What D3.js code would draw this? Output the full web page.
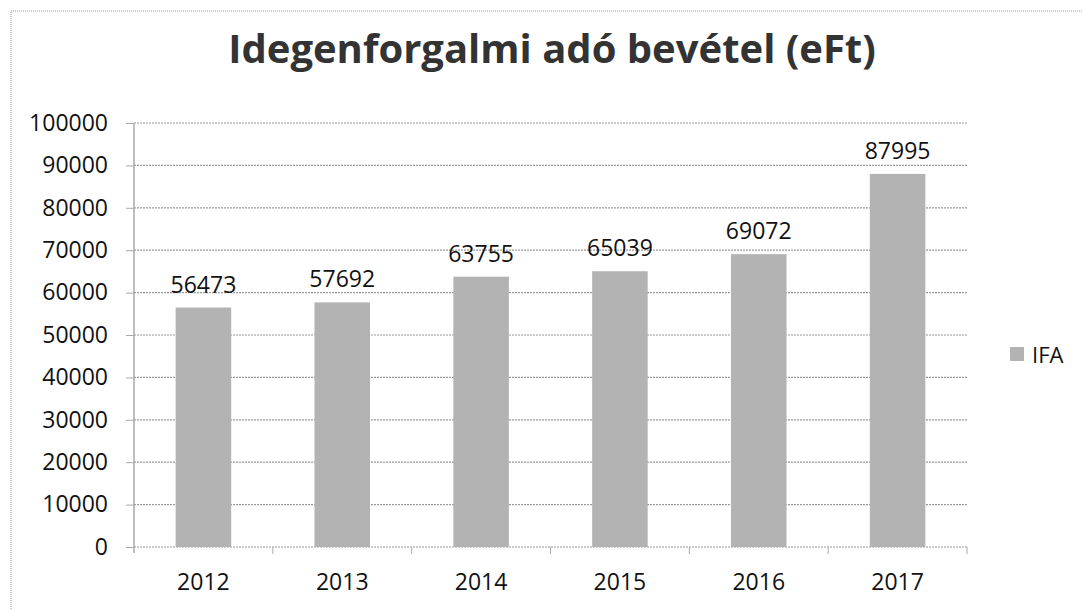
<!DOCTYPE html>
<html>
<head>
<meta charset="utf-8">
<script src="https://cdn.jsdelivr.net/npm/d3@7"></script>
<style>
  body { margin: 0; background: #fff; }
  text { font-family: "Open Sans", Lato, sans-serif; fill: #111; }
</style>
</head>
<body>
<div id="chart"></div>
<script>
// data
const years = ["2012", "2013", "2014", "2015", "2016", "2017"];
const ifa = [56473, 57692, 63755, 65039, 69072, 87995];
const yTicks = [0, 10000, 20000, 30000, 40000, 50000, 60000, 70000, 80000, 90000, 100000];
const seriesName = "IFA";
const title = "Idegenforgalmi adó bevétel (eFt)";

const W = 1082, H = 610;
const margin = {l: 134, r: 115, t: 123, b: 63};
const width = W - margin.l - margin.r;
const height = H - margin.t - margin.b;
const fontSize = "23px";

let outer = d3.select("#chart").append("svg")
    .attr("width", W)
    .attr("height", H);

// dotted frame of the scan
outer.append("rect")
    .attr("x", 11).attr("y", 11)
    .attr("width", W - 8).attr("height", H)
    .attr("fill", "none")
    .attr("stroke", "#999")
    .attr("stroke-dasharray", "1,1");

outer.append("text")
    .attr("x", 552)
    .attr("y", 63)
    .attr("text-anchor", "middle")
    .attr("font-size", "40px")
    .attr("font-weight", 700)
    .style("fill", "#333")
    .text(title);

let svg = outer.append("g")
    .attr("transform", `translate(${margin.l},${margin.t})`);

let x = d3.scaleBand().domain(years).range([0, width]).paddingInner(0.6).paddingOuter(0.3);
let y = d3.scaleLinear().domain([0, 100000]).range([height, 0]);

// gridlines
svg.append("g")
    .selectAll("line")
    .data(yTicks)
    .enter().append("line")
    .attr("x1", 0).attr("x2", width)
    .attr("y1", d => y(d)).attr("y2", d => y(d))
    .attr("stroke", "#9a9a9a")
    .attr("stroke-width", 1.2)
    .attr("stroke-dasharray", "2,1");

// y axis
let yAxis = svg.append("g")
    .call(d3.axisLeft(y).tickValues(yTicks).tickSize(8).tickPadding(18).tickFormat(d3.format("d")));
yAxis.select(".domain").attr("stroke", "#aaa").attr("stroke-width", 1.5).attr("d", `M0,0V${height + 6}`);
yAxis.selectAll(".tick line").attr("stroke", "#aaa");
yAxis.selectAll(".tick text").attr("font-size", fontSize).style("fill", "#111")
    .attr("font-family", "'Open Sans', Lato, sans-serif");

// x axis
let xAxis = svg.append("g")
    .attr("transform", `translate(0,${height})`)
    .call(d3.axisBottom(x).tickSize(0).tickPadding(27));
xAxis.select(".domain").remove();
xAxis.selectAll(".tick text").attr("font-size", fontSize).style("fill", "#111")
    .attr("font-family", "'Open Sans', Lato, sans-serif");
// category separators
svg.append("g")
    .selectAll("line")
    .data(years)
    .enter().append("line")
    .attr("x1", (d, i) => (i + 1) * width / years.length)
    .attr("x2", (d, i) => (i + 1) * width / years.length)
    .attr("y1", height).attr("y2", height + 7)
    .attr("stroke", "#aaa");

// bars
svg.selectAll(".bar")
    .data(ifa)
    .enter().append("rect")
    .attr("class", "bar")
    .attr("x", (d, i) => x(years[i]))
    .attr("y", d => y(d))
    .attr("width", x.bandwidth())
    .attr("height", d => height - y(d))
    .attr("fill", "#b3b3b3");

svg.selectAll(".bar-label")
    .data(ifa)
    .enter().append("text")
    .attr("class", "bar-label")
    .attr("x", (d, i) => x(years[i]) + x.bandwidth() / 2)
    .attr("y", d => y(d) - 15)
    .attr("text-anchor", "middle")
    .attr("font-size", fontSize)
    .text(d => d);

// legend
let legend = outer.append("g").attr("transform", "translate(1010,347)");
legend.append("rect")
    .attr("width", 14).attr("height", 14)
    .attr("fill", "#b3b3b3");
legend.append("text")
    .attr("x", 22).attr("y", 16)
    .attr("font-size", "22px")
    .text(seriesName);
</script>
</body>
</html>
